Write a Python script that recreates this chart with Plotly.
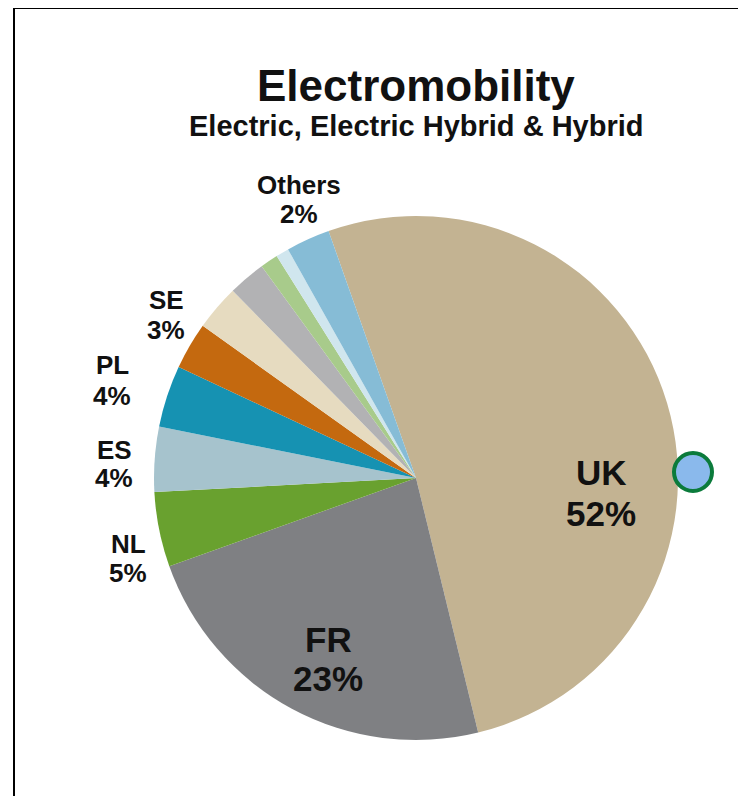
import plotly.graph_objects as go

W, H = 746, 796
OFF = 8  # page body margin of the browser

# ---- data ----
categories = ["UK", "FR", "NL", "ES", "PL", "SE", "Other A", "Other B", "Other C", "Other D", "Others"]
values = [51.5, 23.3, 4.6, 4.0, 3.8, 2.9, 2.8, 2.3, 1.1, 0.8, 2.7]
colors = ["#c3b392", "#7f8083", "#69a12f", "#a6c3cd", "#1692b2", "#c4690f",
          "#e6dbc0", "#b2b2b4", "#a8cb8b", "#d0e6ee", "#86bcd6"]

label_names = ["UK", "FR", "NL", "ES", "PL", "SE", "Others"]
label_pcts = ["52%", "23%", "5%", "4%", "4%", "3%", "2%"]

title = "Electromobility"
subtitle = "Electric, Electric Hybrid & Hybrid"

FONT = "Liberation Sans, Arial, sans-serif"

# ---- layout helpers (window pixel -> paper) ----
def px(x, y):
    return (x - OFF) / W, 1 - (y - OFF) / H

cx, cy, r = 416, 478, 262
dx0, _ = px(cx - r, 0)
dx1, _ = px(cx + r, 0)
_, dy1 = px(0, cy - r)
_, dy0 = px(0, cy + r)

fig = go.Figure(go.Pie(
    labels=categories,
    values=values,
    marker=dict(colors=colors, line=dict(width=0)),
    sort=False,
    direction="clockwise",
    rotation=-19.5,
    textinfo="none",
    hoverinfo="label+percent",
    showlegend=False,
    domain=dict(x=[dx0, dx1], y=[dy0, dy1]),
))

# label positions: x centre, name-line y, pct-line y, font size
label_pos = {
    "UK": (601, 472, 513, 35),
    "FR": (328, 639, 678, 35),
    "NL": (128, 544, 573, 26),
    "ES": (114, 450, 478, 26),
    "PL": (112, 365, 396, 26),
    "SE": (166, 300, 330, 26),
    "Others": (299, 185, 214, 26),
}

annotations = []
for name, pct in zip(label_names, label_pcts):
    x, y1, y2, s = label_pos[name]
    for txt, yy in ((name, y1), (pct, y2)):
        ax, ay = px(x, yy)
        annotations.append(dict(
            x=ax, y=ay, xref="paper", yref="paper", xanchor="center", yanchor="middle",
            text=f"<b>{txt}</b>", showarrow=False,
            font=dict(family=FONT, size=s, color="#111111"),
        ))

tx, ty = px(416, 85)
annotations.append(dict(x=tx, y=ty, xref="paper", yref="paper", xanchor="center", yanchor="middle",
                        text=f"<b>{title}</b>", showarrow=False,
                        font=dict(family=FONT, size=44, color="#111111")))
sx, sy = px(416, 126)
annotations.append(dict(x=sx, y=sy, xref="paper", yref="paper", xanchor="center", yanchor="middle",
                        text=f"<b>{subtitle}</b>", showarrow=False,
                        font=dict(family=FONT, size=29, color="#111111")))

bx0, by0 = px(14, 8)
bx1, by1 = px(800, 850)
mx0, my0 = px(674, 453)
mx1, my1 = px(712, 491)
shapes = [
    dict(type="rect", xref="paper", yref="paper", x0=bx0, y0=by0, x1=bx1, y1=by1,
         line=dict(color="#000000", width=2), fillcolor="rgba(0,0,0,0)", layer="below"),
    dict(type="circle", xref="paper", yref="paper", x0=mx0, y0=my1, x1=mx1, y1=my0,
         line=dict(color="#0b7b3b", width=4), fillcolor="#8ab9ec"),
]

fig.update_layout(
    width=W, height=H,
    margin=dict(l=0, r=0, t=0, b=0),
    paper_bgcolor="white", plot_bgcolor="white",
    annotations=annotations, shapes=shapes,
)

fig.write_html("out.html")
